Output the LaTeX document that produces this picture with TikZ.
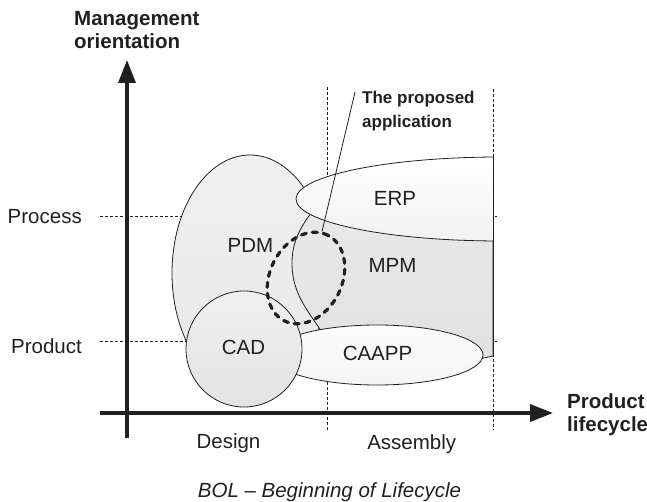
\documentclass[tikz,border=0pt]{standalone}
\usepackage{fontspec}
\setmainfont{Liberation Sans}
\usetikzlibrary{arrows.meta,shapes.geometric}
\definecolor{ink}{HTML}{231F20}
\tikzset{
  blob/.style={ellipse,draw=ink,line width=0.8pt,inner sep=0pt},
  guide/.style={draw=ink,line width=0.8pt,dash pattern=on 3pt off 2pt},
  axis/.style={draw=ink,line width=3.5pt,-{Triangle[length=23pt,width=17pt]}},
  propo/.style={ellipse,draw=ink,line width=3.2pt,dash pattern=on 5pt off 6pt,line cap=round,inner sep=0pt},
  lbl/.style={inner sep=0pt,text=ink,font=\fontsize{20.5}{23}\selectfont},
  head/.style={inner sep=0pt,text=ink,align=left,font=\bfseries\fontsize{20.5}{23}\selectfont},
}
\begin{document}
\begin{tikzpicture}[x=1pt,y=-1pt]
  \useasboundingbox (0,0) rectangle (647,502);
  \draw[guide] (100,216) -- (497,216);
  \draw[guide] (100,341) -- (497,341);
  \draw[guide] (327,87) -- (327,430);
  \draw[guide] (493,89) -- (493,430);
  \node[blob,top color=gray!12,bottom color=gray!18,minimum width=156,minimum height=236] (pdm) at (250,273) {};
  \begin{scope}
    \clip (0,0) rectangle (493,502);
    \draw[ink,line width=0.8pt,top color=gray!16,bottom color=gray!24]
      (493,175) -- (330,185) to[out=240,in=90] (292,263)
      to[out=270,in=120] (330,345) .. controls (420,372) .. (493,356) -- cycle;
    \node[blob,top color=white,bottom color=gray!10,minimum width=408,minimum height=84] (erp) at (500,199) {};
  \end{scope}
  \draw[ink,line width=0.8pt] (493,157) -- (493,357);
  \node[blob,top color=gray!2,bottom color=gray!8,minimum width=212,minimum height=60] (caapp) at (377,355) {};
  \node[blob,circle,top color=gray!12,bottom color=gray!22,minimum size=116] (cad) at (244,349) {};
  \node[propo,minimum width=96,minimum height=72,rotate=63] (app) at (306,278) {};
  \coordinate (tip) at (355,92);
  \draw[ink,line width=0.8pt] (app.8) -- (tip);
  \node[lbl,anchor=base] (pdmtxt) at (250.5,253) {PDM};
  \node[lbl,anchor=base] (mpmtxt) at (392.5,272.7) {MPM};
  \node[lbl,anchor=base] (erptxt) at (395,206) {ERP};
  \node[lbl,anchor=base] (cadtxt) at (243.5,354) {CAD};
  \node[lbl,anchor=base] (caapptxt) at (377.5,360.7) {CAAPP};
  \coordinate (ybot) at (127,438);
  \coordinate (ytop) at (127,60);
  \coordinate (xleft) at (100,413);
  \coordinate (xright) at (553,413);
  \draw[axis] (ybot) -- (ytop);
  \draw[axis] (xleft) -- (xright);
  \node[head,anchor=north west] (mgmt) at (74,11.5) {Management\\orientation};
  \node[head,anchor=north west] (plc) at (567,393) {Product\\lifecycle};
  \node[head,font=\bfseries\fontsize{17}{24}\selectfont,anchor=north west] (apptxt) at (362,91) {The proposed\\application};
  \node[lbl,anchor=base east] (process) at (82,223.3) {Process};
  \node[lbl,anchor=base east] (product) at (82,353.3) {Product};
  \node[lbl,anchor=base] (design) at (228.5,448) {Design};
  \node[lbl,anchor=base] (assembly) at (411.7,449) {Assembly};
  \node[lbl,anchor=base,font=\itshape\fontsize{20.5}{23}\selectfont] (bol) at (329.5,497) {BOL – Beginning of Lifecycle};
\end{tikzpicture}
\end{document}
